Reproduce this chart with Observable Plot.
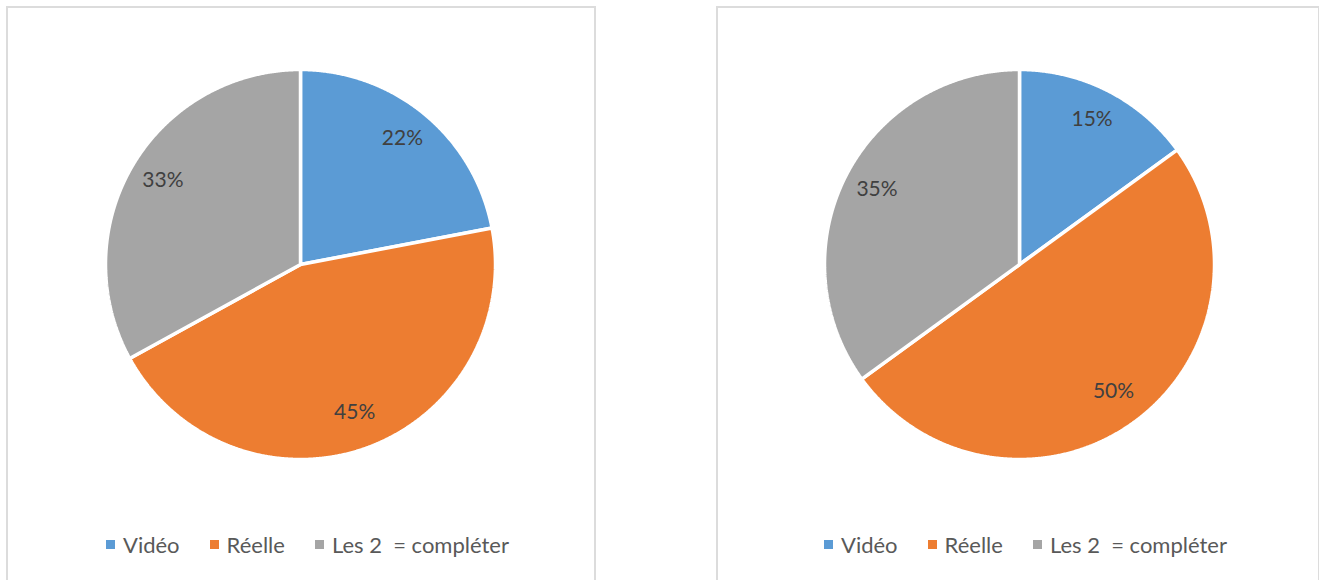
<!DOCTYPE html>
<html>
<head>
<meta charset="utf-8">
<script src="https://cdn.jsdelivr.net/npm/d3@7"></script>
<script src="https://cdn.jsdelivr.net/npm/@observablehq/plot@0.6"></script>
<style>
  body { margin: 0; background: #fff; }
  #root { position: relative; width: 1319px; height: 580px; overflow: hidden; font-family: Lato, "Open Sans", sans-serif; }
  .box { position: absolute; top: 6px; height: 600px; border: 2px solid #dcdcdc; box-sizing: border-box; }
  .box svg { position: absolute; left: 0; top: 0; }
  .legend { position: absolute; display: flex; align-items: center; white-space: pre; font-size: 22px; color: #595959; }
  .legend .item { display: flex; align-items: center; }
  .legend .sw { width: 9px; height: 9px; margin-right: 8px; }
</style>
</head>
<body>
<div id="root"></div>
<script>
const categories = ["Vidéo", "Réelle", "Les 2  = compléter"];
const colors = ["#5B9BD5", "#ED7D31", "#A5A5A5"];
const valuesLeft = [22, 45, 33];
const valuesRight = [15, 50, 35];
const labelsLeft = ["22%", "45%", "33%"];
const labelsRight = ["15%", "50%", "35%"];

const root = document.getElementById("root");

function makePie(values, labels, box) {
  const div = document.createElement("div");
  div.className = "box";
  div.style.left = box.left + "px";
  div.style.width = box.width + "px";
  root.appendChild(div);

  const arcs = d3.pie().sort(null).value(d => d.value)(
    values.map((v, i) => ({cat: categories[i], value: v, label: labels[i]}))
  );
  const pts = [];
  arcs.forEach(a => {
    const cat = a.data.cat;
    pts.push({cat, x: 0, y: 0});
    const n = Math.max(2, Math.ceil((a.endAngle - a.startAngle) / 0.005));
    for (let k = 0; k <= n; k++) {
      const t = a.startAngle + (a.endAngle - a.startAngle) * k / n;
      pts.push({cat, x: Math.sin(t), y: Math.cos(t)});
    }
    pts.push({cat, x: 0, y: 0});
  });
  const lab = arcs.map(a => {
    const m = (a.startAngle + a.endAngle) / 2;
    return {label: a.data.label, x: 0.82 * Math.sin(m), y: 0.82 * Math.cos(m)};
  });

  const W = box.width - 4, H = 580;
  const r = 195;
  const svg = Plot.plot({
    width: W, height: H,
    margin: 0,
    x: {domain: [-1, 1], range: [box.cx - r, box.cx + r], axis: null},
    y: {domain: [-1, 1], range: [box.cy + r, box.cy - r], axis: null},
    color: {domain: categories, range: colors},
    style: {background: "transparent", overflow: "visible"},
    marks: [
      Plot.line(pts, {x: "x", y: "y", z: "cat", fill: "cat", stroke: "white", strokeWidth: 3.5, strokeLinejoin: "miter", curve: "linear"}),
      Plot.text(lab, {x: "x", y: "y", text: "label", dy: -3, fontSize: 21, fill: "#404040", fontFamily: "Lato, 'Open Sans', sans-serif"})
    ]
  });
  div.appendChild(svg);

  const leg = document.createElement("div");
  leg.className = "legend";
  leg.style.left = box.legendLeft + "px";
  leg.style.top = (box.legendTop) + "px";
  categories.forEach((c, i) => {
    const it = document.createElement("div");
    it.className = "item";
    if (i > 0) it.style.marginLeft = "30px";
    const sw = document.createElement("div");
    sw.className = "sw";
    sw.style.background = colors[i];
    const tx = document.createElement("span");
    tx.textContent = c;
    it.appendChild(sw); it.appendChild(tx);
    leg.appendChild(it);
  });
  div.appendChild(leg);
}

makePie(valuesLeft, labelsLeft, {left: 6, width: 590, cx: 292, cy: 256, legendLeft: 98, legendTop: 523});
makePie(valuesRight, labelsRight, {left: 716, width: 604, cx: 301, cy: 256, legendLeft: 106, legendTop: 523});
</script>
</body>
</html>
